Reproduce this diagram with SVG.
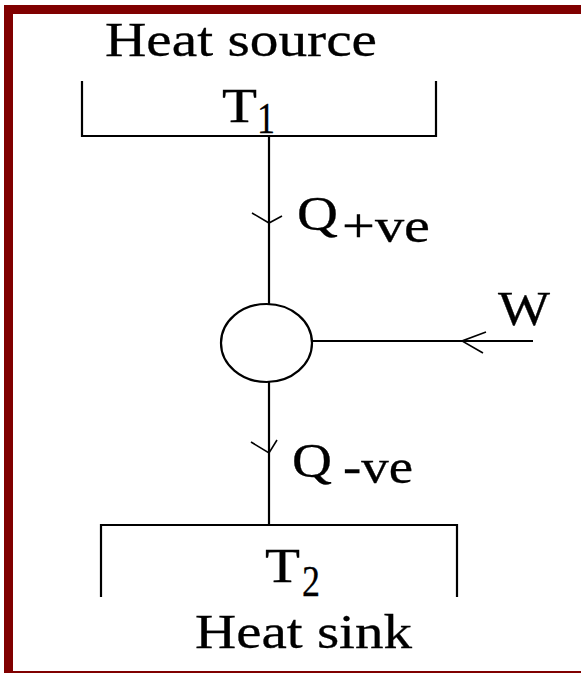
<svg xmlns="http://www.w3.org/2000/svg" width="581" height="673" viewBox="0 0 581 673">
<style>
.t{font-family:"Liberation Serif","Times New Roman",serif;font-size:49px;fill:#000;stroke:#000;stroke-width:0.3}
.s{font-size:44px}
.ln{fill:none;stroke:#000;stroke-width:2.2}
.ar{fill:none;stroke:#000;stroke-width:1.6}
</style>
<rect x="0" y="0" width="581" height="673" fill="#fff"/>
<rect x="8.5" y="9.5" width="600" height="666" fill="none" stroke="#800000" stroke-width="9"/>
<g id="source">
<path class="ln" d="M82,81 V136 H436 V81"/>
<text class="t" x="105" y="56" textLength="272" lengthAdjust="spacingAndGlyphs">Heat source</text>
<text class="t" x="222" y="122" textLength="35" lengthAdjust="spacingAndGlyphs">T</text>
<text class="t s" x="257" y="133" textLength="18" lengthAdjust="spacingAndGlyphs">1</text>
</g>
<g id="engine">
<ellipse class="ln" cx="266.5" cy="343" rx="45.5" ry="39"/>
</g>
<g id="sink">
<path class="ln" d="M101,597 V525 H457 V597"/>
<text class="t" x="265" y="582" textLength="35" lengthAdjust="spacingAndGlyphs">T</text>
<text class="t s" x="302" y="596" textLength="18" lengthAdjust="spacingAndGlyphs">2</text>
<text class="t" x="195" y="648" textLength="217" lengthAdjust="spacingAndGlyphs">Heat sink</text>
</g>
<g id="connectors">
<line class="ln" x1="269" y1="136" x2="269" y2="304"/>
<path class="ar" d="M252,213 L269,223 L282,216"/>
<text class="t" x="297" y="230" textLength="41" lengthAdjust="spacingAndGlyphs">Q</text>
<text class="t" x="342" y="242" textLength="88" lengthAdjust="spacingAndGlyphs">+ve</text>
<line class="ln" x1="269" y1="382" x2="269" y2="525"/>
<path class="ar" d="M251,442 L269,453 L277,440"/>
<text class="t" x="292" y="477" textLength="40" lengthAdjust="spacingAndGlyphs">Q</text>
<text class="t" x="343" y="483" textLength="70" lengthAdjust="spacingAndGlyphs">-ve</text>
<line class="ln" x1="312" y1="341" x2="533" y2="341"/>
<path class="ar" d="M486,332 L462,341 L483,353"/>
<text class="t" x="498" y="325" textLength="52" lengthAdjust="spacingAndGlyphs">W</text>
</g>
</svg>
